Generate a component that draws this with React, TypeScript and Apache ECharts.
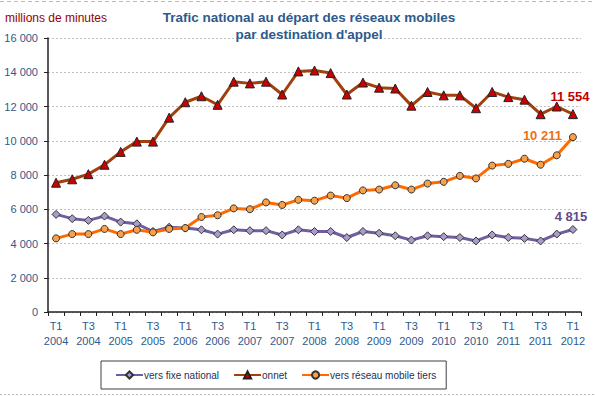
import React, { useEffect, useRef } from "react";
import * as echarts from "echarts";

const years = ["2004", "2005", "2006", "2007", "2008", "2009", "2010", "2011"];
const categories: string[] = [];
years.forEach((y) => ["T1", "T2", "T3", "T4"].forEach((q) => categories.push(q + "\n" + y)));
categories.push("T1\n2012");

const fixeNational = [
  5700, 5450, 5350, 5600, 5250, 5150, 4700, 4950, 4900, 4800, 4550, 4800, 4750, 4750, 4500, 4800,
  4700, 4700, 4350, 4700, 4600, 4450, 4200, 4450, 4400, 4350, 4150, 4500, 4350, 4300, 4150, 4550, 4815,
];
const onnet = [
  7550, 7750, 8050, 8600, 9350, 9950, 9950, 11350, 12250, 12600, 12100, 13450, 13350, 13450, 12700, 14050,
  14100, 13950, 12700, 13400, 13100, 13050, 12050, 12850, 12650, 12650, 11900, 12850, 12550, 12400, 11550, 12000, 11554,
];
const mobileTiers = [
  4300, 4550, 4550, 4850, 4550, 4800, 4650, 4850, 4900, 5550, 5650, 6050, 6000, 6400, 6250, 6550,
  6500, 6800, 6650, 7100, 7150, 7400, 7150, 7500, 7600, 7950, 7800, 8550, 8650, 8950, 8600, 9150, 10211,
];

const FONT = "'Liberation Sans', Arial, sans-serif";

const fmt = (v: number) => String(v).replace(/\B(?=(\d{3})+(?!\d))/g, " ");

function withEndLabel(arr: number[], color: string, position: any, offset: number[]) {
  return arr.map((v, i) =>
    i === arr.length - 1
      ? {
          value: v,
          label: {
            show: true,
            position,
            offset,
            formatter: fmt(v),
            color,
            fontWeight: "bold",
            fontSize: 13,
            fontFamily: FONT,
          },
        }
      : v
  );
}

export default function App() {
  const ref = useRef<HTMLDivElement>(null);
  useEffect(() => {
    const chart = echarts.init(ref.current!, null, { renderer: "svg" });
    chart.setOption({
      animation: false,
      backgroundColor: "#fff",
      title: {
        text: "Trafic national au départ des réseaux mobiles\npar destination d'appel",
        left: 304,
        top: 4,
        textAlign: "center",
        textStyle: { fontFamily: FONT, fontSize: 13.5, fontWeight: "bold", color: "#2E5A8C", lineHeight: 17 },
      },
      graphic: [
        { type: "text", left: 5, top: 12, style: { text: "millions de minutes", fill: "#990000", font: "12px " + FONT } },
        { type: "line", shape: { x1: 0, y1: 1.5, x2: 595, y2: 1.5 }, style: { stroke: "#BBBBBB", lineWidth: 1, lineDash: [4, 3] } },
        { type: "line", shape: { x1: 0, y1: 394.5, x2: 595, y2: 394.5 }, style: { stroke: "#BBBBBB", lineWidth: 1, lineDash: [2, 2] } },
      ],
      legend: {
        left: 101,
        top: 361,
        padding: [9, 10, 9, 14],
        itemWidth: 27,
        itemHeight: 9,
        itemGap: 14,
        borderColor: "#404040",
        borderWidth: 1,
        textStyle: { fontFamily: FONT, fontSize: 10, color: "#1F2F55", padding: [0, 0, 0, -4] },
        data: ["vers fixe national", "onnet", "vers réseau mobile tiers"],
      },
      grid: { left: 48, right: 14, top: 38, bottom: 84 },
      xAxis: {
        type: "category",
        data: categories,
        boundaryGap: true,
        axisLine: { lineStyle: { color: "#222", width: 1.5 } },
        axisTick: { show: true, interval: 0, inside: false, length: 4, lineStyle: { color: "#222" } },
        axisLabel: {
          interval: 1,
          fontFamily: FONT,
          fontSize: 11,
          color: "#2E5A8C",
          lineHeight: 15,
          margin: 6,
        },
        splitLine: { show: false },
      },
      yAxis: {
        type: "value",
        min: 0,
        max: 16000,
        interval: 2000,
        axisLine: { show: true, lineStyle: { color: "#222", width: 1.5 } },
        axisTick: { show: true, length: 4, lineStyle: { color: "#222" } },
        axisLabel: { fontFamily: FONT, fontSize: 11, color: "#2E5A8C", formatter: (v: number) => fmt(v), margin: 10 },
        splitLine: { show: true, lineStyle: { color: "#C0C0C0", type: [2, 2], width: 1 } },
      },
      series: [
        {
          name: "vers fixe national",
          type: "line",
          data: withEndLabel(fixeNational, "#5F4B8B", "top", [-2, 3]),
          symbol: "diamond",
          symbolSize: 8,
          lineStyle: { color: "#6F5F9F", width: 3 },
          itemStyle: { color: "#A99BCB", borderColor: "#333", borderWidth: 1 },
          z: 3,
        },
        {
          name: "onnet",
          type: "line",
          data: withEndLabel(onnet, "#C00000", "top", [-3, -1]),
          symbol: "triangle",
          symbolSize: 9,
          lineStyle: { color: "#A0400F", width: 3 },
          itemStyle: { color: "#CC0000", borderColor: "#222", borderWidth: 1 },
          z: 4,
        },
        {
          name: "vers réseau mobile tiers",
          type: "line",
          data: withEndLabel(mobileTiers, "#F07010", "left", [-2, -2]),
          symbol: "circle",
          symbolSize: 7,
          lineStyle: { color: "#FF6A00", width: 3 },
          itemStyle: { color: "#F9A04A", borderColor: "#333", borderWidth: 1 },
          z: 5,
        },
      ],
    });
    return () => chart.dispose();
  }, []);
  return <div ref={ref} style={{ position: "fixed", left: 0, top: 0, width: 595, height: 396 }} />;
}
